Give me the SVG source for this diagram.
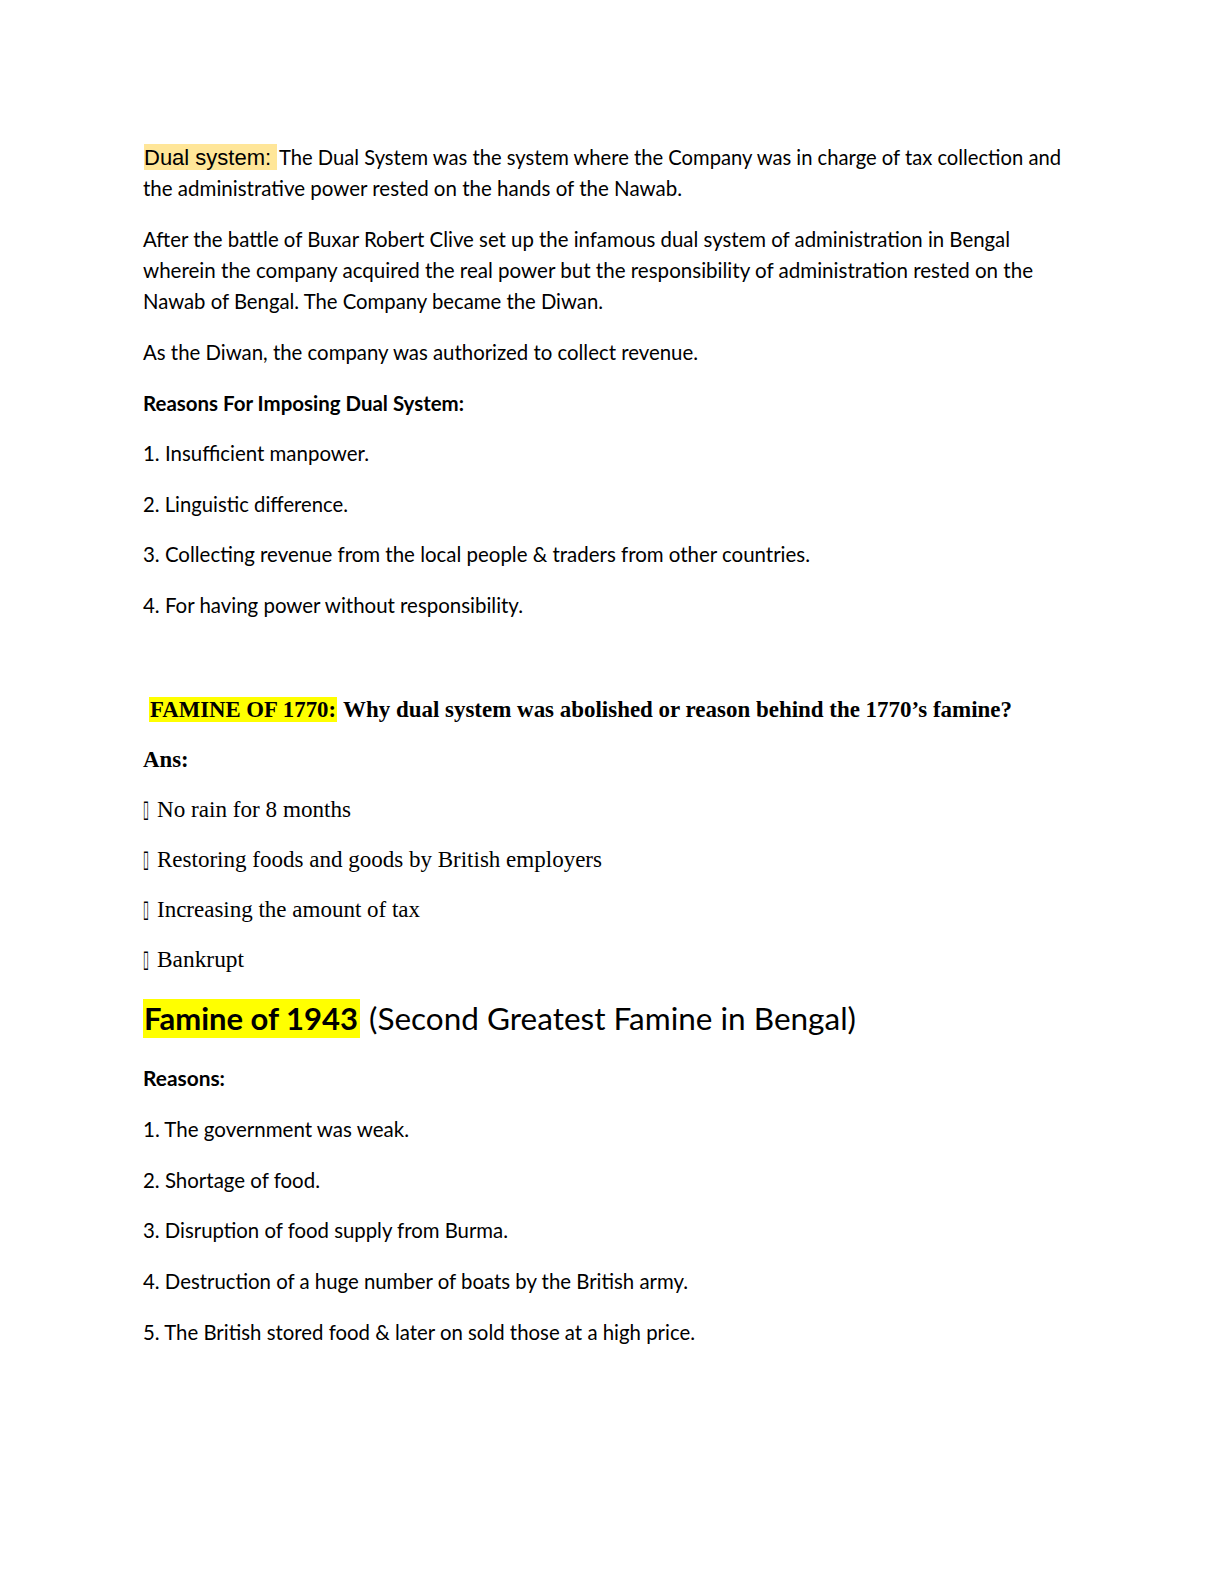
<svg xmlns="http://www.w3.org/2000/svg" width="1224" height="1584" viewBox="0 0 1224 1584">
<style>
.b{font-family:Lato,"Noto Sans",sans-serif;font-size:21px;fill:#000}
.bb{font-family:Lato,"Noto Sans",sans-serif;font-size:21px;font-weight:bold;fill:#000}
.s{font-family:"Liberation Serif","Times New Roman",serif;font-size:22.8px;fill:#000}
.sb{font-family:"Liberation Serif","Times New Roman",serif;font-size:22.8px;font-weight:bold;fill:#000}
.a{font-family:"Liberation Sans",Arial,sans-serif;font-size:22px;fill:#000}
.box{font-family:"DejaVu Sans",sans-serif;font-size:24px;fill:#000}
</style>
<rect width="1224" height="1584" fill="#fff"/>
<g id="dual-system">
<rect x="144" y="144" width="133" height="26" fill="#FFE699"/>
<text class="a" x="144" y="165">Dual system:</text>
<text class="b" x="279" y="165" textLength="782" lengthAdjust="spacingAndGlyphs">The Dual System was the system where the Company was in charge of tax collection and</text>
<text class="b" x="143" y="196" textLength="539" lengthAdjust="spacingAndGlyphs">the administrative power rested on the hands of the Nawab.</text>
<text class="b" x="143" y="247" textLength="867" lengthAdjust="spacingAndGlyphs">After the battle of Buxar Robert Clive set up the infamous dual system of administration in Bengal</text>
<text class="b" x="143" y="278" textLength="890" lengthAdjust="spacingAndGlyphs">wherein the company acquired the real power but the responsibility of administration rested on the</text>
<text class="b" x="143" y="309" textLength="460" lengthAdjust="spacingAndGlyphs">Nawab of Bengal. The Company became the Diwan.</text>
<text class="b" x="143" y="360" textLength="555" lengthAdjust="spacingAndGlyphs">As the Diwan, the company was authorized to collect revenue.</text>
</g>
<g id="dual-reasons">
<text class="bb" x="143" y="411" textLength="321" lengthAdjust="spacingAndGlyphs">Reasons For Imposing Dual System:</text>
<text class="b" x="143" y="461" textLength="226" lengthAdjust="spacingAndGlyphs">1. Insufficient manpower.</text>
<text class="b" x="143" y="512" textLength="205" lengthAdjust="spacingAndGlyphs">2. Linguistic difference.</text>
<text class="b" x="143" y="562" textLength="667" lengthAdjust="spacingAndGlyphs">3. Collecting revenue from the local people &amp; traders from other countries.</text>
<text class="b" x="143" y="613" textLength="380" lengthAdjust="spacingAndGlyphs">4. For having power without responsibility.</text>
</g>
<g id="famine-1770">
<rect x="149" y="697" width="188" height="25" fill="#FFFF00"/>
<text class="sb" x="150" y="717" textLength="186" lengthAdjust="spacingAndGlyphs">FAMINE OF 1770:</text>
<text class="sb" x="343" y="717" textLength="669" lengthAdjust="spacingAndGlyphs">Why dual system was abolished or reason behind the 1770’s famine?</text>
<text class="sb" x="143" y="767">Ans:</text>
<text class="box" x="143" y="817" textLength="6" lengthAdjust="spacingAndGlyphs">▯</text>
<text class="s" x="157" y="817" textLength="194" lengthAdjust="spacingAndGlyphs">No rain for 8 months</text>
<text class="box" x="143" y="867" textLength="6" lengthAdjust="spacingAndGlyphs">▯</text>
<text class="s" x="157" y="867" textLength="445" lengthAdjust="spacingAndGlyphs">Restoring foods and goods by British employers</text>
<text class="box" x="143" y="917" textLength="6" lengthAdjust="spacingAndGlyphs">▯</text>
<text class="s" x="157" y="917" textLength="263" lengthAdjust="spacingAndGlyphs">Increasing the amount of tax</text>
<text class="box" x="143" y="967" textLength="6" lengthAdjust="spacingAndGlyphs">▯</text>
<text class="s" x="157" y="967" textLength="87" lengthAdjust="spacingAndGlyphs">Bankrupt</text>
</g>
<g id="famine-1943">
<rect x="143" y="999" width="217" height="39" fill="#FFFF00"/>
<text x="144" y="1030" font-family="Lato,'Noto Sans',sans-serif" font-size="31" font-weight="bold" textLength="214" lengthAdjust="spacingAndGlyphs">Famine of 1943</text>
<text x="369" y="1030" font-family="Lato,'Noto Sans',sans-serif" font-size="31" textLength="487" lengthAdjust="spacingAndGlyphs">(Second Greatest Famine in Bengal)</text>
<text class="bb" x="143" y="1086" textLength="82" lengthAdjust="spacingAndGlyphs">Reasons:</text>
<text class="b" x="143" y="1137" textLength="266" lengthAdjust="spacingAndGlyphs">1. The government was weak.</text>
<text class="b" x="143" y="1188" textLength="177" lengthAdjust="spacingAndGlyphs">2. Shortage of food.</text>
<text class="b" x="143" y="1238" textLength="365" lengthAdjust="spacingAndGlyphs">3. Disruption of food supply from Burma.</text>
<text class="b" x="143" y="1289" textLength="545" lengthAdjust="spacingAndGlyphs">4. Destruction of a huge number of boats by the British army.</text>
<text class="b" x="143" y="1340" textLength="552" lengthAdjust="spacingAndGlyphs">5. The British stored food &amp; later on sold those at a high price.</text>
</g>
</svg>
